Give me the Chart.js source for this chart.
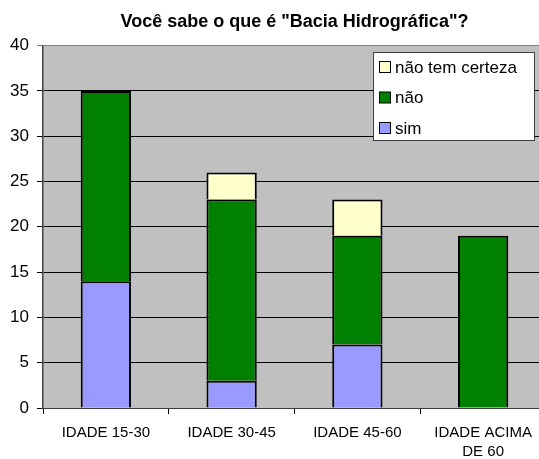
<!DOCTYPE html>
<html>
<head>
<meta charset="utf-8">
<script src="https://cdn.jsdelivr.net/npm/chart.js@4/dist/chart.umd.min.js"></script>
<style>
html,body{margin:0;padding:0;background:#fff;overflow:hidden;}
#wrap{width:539px;height:459px;overflow:hidden;position:relative;}
canvas{display:block;}
</style>
</head>
<body>
<div id="wrap"><canvas id="c" width="546" height="459"></canvas></div>
<script>
const categories = ['IDADE 15-30', 'IDADE 30-45', 'IDADE 45-60', ['IDADE ACIMA', 'DE 60']];
const sim = [14, 3, 7, 0];
const nao = [21, 20, 12, 19];
const naoTemCerteza = [0, 3, 4, 0];
const titleText = 'Você sabe o que é "Bacia Hidrográfica"?';

const FONT = "'Liberation Sans', Arial, sans-serif";

const plotBg = {
  id: 'plotBg',
  beforeDraw(chart) {
    const {ctx, chartArea: a} = chart;
    ctx.save();
    ctx.fillStyle = '#C0C0C0';
    ctx.fillRect(a.left, a.top, a.right - a.left, a.bottom - a.top);
    ctx.restore();
  }
};

const boxLegend = {
  id: 'boxLegend',
  afterDraw(chart) {
    const ctx = chart.ctx;
    const x = 373.5, y = 52.5, w = 161, h = 88;
    ctx.save();
    ctx.fillStyle = '#fff';
    ctx.fillRect(x, y, w, h);
    ctx.strokeStyle = '#404040';
    ctx.lineWidth = 1;
    ctx.strokeRect(x, y, w, h);
    const ds = chart.data.datasets.slice().reverse();
    ctx.font = '17px ' + FONT;
    ctx.textBaseline = 'middle';
    ds.forEach((d, i) => {
      const cy = 67 + i * 30.5;
      ctx.fillStyle = d.backgroundColor;
      ctx.fillRect(379.5, cy - 5.5, 11, 11);
      ctx.strokeStyle = '#000';
      ctx.strokeRect(379.5, cy - 5.5, 11, 11);
      ctx.fillStyle = '#000';
      ctx.fillText(d.label, 395, cy + 1);
    });
    ctx.restore();
  }
};

const bw = (c) => (c.raw === 0 ? 0 : 2);

new Chart(document.getElementById('c'), {
  type: 'bar',
  data: {
    labels: categories,
    datasets: [
      {label: 'sim', data: sim, backgroundColor: '#9999FF', borderColor: '#000', borderWidth: bw},
      {label: 'não', data: nao, backgroundColor: '#008000', borderColor: '#000', borderWidth: bw},
      {label: 'não tem certeza', data: naoTemCerteza, backgroundColor: '#FFFFCC', borderColor: '#000', borderWidth: bw}
    ]
  },
  options: {
    responsive: false,
    animation: false,
    devicePixelRatio: 1,
    layout: {padding: {left: 0, right: 0, top: 0, bottom: 0}},
    datasets: {bar: {barPercentage: 0.4, categoryPercentage: 1, borderSkipped: 'bottom'}},
    plugins: {
      legend: {display: false},
      tooltip: {enabled: false},
      title: {
        display: true,
        text: titleText,
        fullSize: false,
        color: '#000',
        font: {family: FONT, size: 18, weight: 'bold'},
        padding: {top: 11, bottom: 13}
      }
    },
    scales: {
      x: {
        stacked: true,
        afterFit(s) { s.height = 51; },
        grid: {drawOnChartArea: false, drawTicks: true, tickLength: 6, color: '#000', offset: true},
        border: {color: '#404040', width: 1},
        ticks: {color: '#000', font: {family: FONT, size: 15, lineHeight: 1.3}, padding: 9, maxRotation: 0, autoSkip: false}
      },
      y: {
        stacked: true,
        min: 0, max: 40,
        afterFit(s) { s.width = 43; },
        grid: {
          color: (c) => c.tick && c.tick.value === 40 ? '#808080' : '#000',
          tickLength: 6, lineWidth: 1
        },
        border: {color: '#404040', width: 1.5},
        ticks: {stepSize: 5, color: '#000', font: {family: FONT, size: 17}, padding: 8}
      }
    }
  },
  plugins: [plotBg, boxLegend]
});
</script>
</body>
</html>
